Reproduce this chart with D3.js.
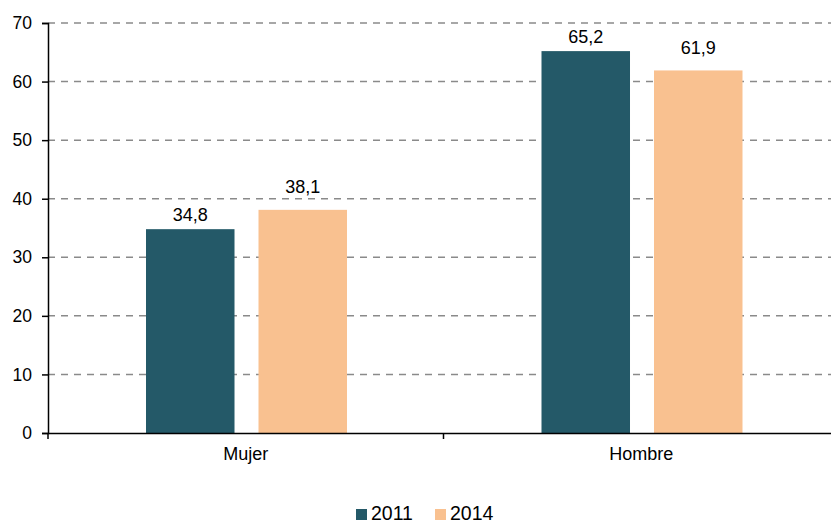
<!DOCTYPE html>
<html>
<head>
<meta charset="utf-8">
<script src="https://cdn.jsdelivr.net/npm/d3@7"></script>
<style>
  body { margin: 0; background: #fff; }
  svg { display: block; font-family: "Liberation Sans", Arial, sans-serif; }
</style>
</head>
<body>
<div id="chart"></div>
<script>
const categories = ["Mujer", "Hombre"];
const years = ["2011", "2014"];
const values2011 = [34.8, 65.2];
const values2014 = [38.1, 61.9];
const yTicks = [0, 10, 20, 30, 40, 50, 60, 70];

const width = 831,
  height = 525,
  margin = { top: 23, bottom: 92, left: 48, right: -8 };

const colors = { "2011": "#245968", "2014": "#f9c190" };
// label gap above the bar, per series
const labelGap = { "2011": 8, "2014": 16.5 };

const data = categories.map((c, i) => ({
  category: c,
  values: [
    { year: "2011", value: values2011[i] },
    { year: "2014", value: values2014[i] },
  ],
}));

const svg = d3
  .select("#chart")
  .append("svg")
  .attr("width", width)
  .attr("height", height);

// SCALES
const xScale = d3
  .scaleBand()
  .domain(categories)
  .range([margin.left, width - margin.right]);

const xInner = d3
  .scaleBand()
  .domain(years)
  .range([98, 299])
  .paddingInner(0.2133);

const yScale = d3
  .scaleLinear()
  .domain([0, 70])
  .range([height - margin.bottom, margin.top]);

// gridlines
svg
  .append("g")
  .selectAll("line")
  .data(yTicks.filter(d => d > 0))
  .join("line")
  .attr("x1", margin.left)
  .attr("x2", width)
  .attr("y1", d => yScale(d))
  .attr("y2", d => yScale(d))
  .attr("stroke", "#8a8a8a")
  .attr("stroke-width", 1.5)
  .attr("stroke-dasharray", "7,6");

// bars
const groups = svg
  .append("g")
  .selectAll("g")
  .data(data)
  .join("g")
  .attr("transform", d => `translate(${xScale(d.category)},0)`);

groups
  .selectAll("rect")
  .data(d => d.values)
  .join("rect")
  .attr("x", d => xInner(d.year))
  .attr("width", xInner.bandwidth())
  .attr("y", d => yScale(d.value))
  .attr("height", d => yScale(0) - yScale(d.value))
  .attr("fill", d => colors[d.year]);

groups
  .selectAll("text")
  .data(d => d.values)
  .join("text")
  .attr("x", d => xInner(d.year) + xInner.bandwidth() / 2)
  .attr("y", d => yScale(d.value) - labelGap[d.year])
  .attr("text-anchor", "middle")
  .attr("font-size", 18)
  .attr("fill", "#000")
  .text(d => d3.format(".1f")(d.value).replace(".", ","));

// y axis
const yAxis = svg
  .append("g")
  .attr("transform", `translate(${margin.left},0)`)
  .call(
    d3.axisLeft(yScale)
      .tickValues(yTicks)
      .tickSize(6)
      .tickPadding(10)
  );
yAxis.selectAll("text").attr("font-size", 17.5).attr("fill", "#000");

// x axis
const xAxis = svg
  .append("g")
  .attr("transform", `translate(0,${yScale(0)})`)
  .call(d3.axisBottom(xScale).tickSize(0).tickPadding(14));
xAxis.selectAll("text").attr("font-size", 18).attr("fill", "#000");
xAxis
  .selectAll(".edge")
  .data(categories.concat([null]))
  .join("line")
  .attr("class", "edge")
  .attr("x1", (d, i) => margin.left + i * xScale.step())
  .attr("x2", (d, i) => margin.left + i * xScale.step())
  .attr("y1", 0)
  .attr("y2", 6)
  .attr("stroke", "#000")
  .attr("stroke-width", 1.5);

svg.selectAll(".domain").attr("stroke", "#000").attr("stroke-width", 1.5);
svg.selectAll(".tick line").attr("stroke", "#000").attr("stroke-width", 1.5);

// legend
const legendX = [356, 435];
const legend = svg
  .append("g")
  .selectAll("g")
  .data(years)
  .join("g")
  .attr("transform", (d, i) => `translate(${legendX[i]},509)`);
legend
  .append("rect")
  .attr("width", 11)
  .attr("height", 11)
  .attr("fill", d => colors[d]);
legend
  .append("text")
  .attr("x", 15)
  .attr("y", 11)
  .attr("font-size", 19.5)
  .attr("fill", "#000")
  .text(d => d);
</script>
</body>
</html>
